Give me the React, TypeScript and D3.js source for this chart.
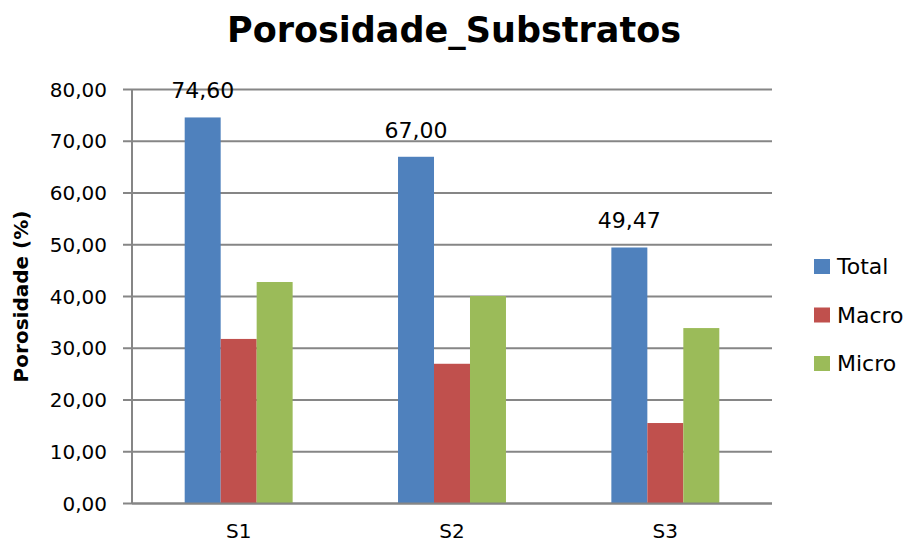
import React from "react";
import * as d3 from "d3";

const categories = ["S1", "S2", "S3"];
const seriesNames = ["Total", "Macro", "Micro"];
const totalValues = [74.6, 67.0, 49.47];
const macroValues = [31.8, 27.0, 15.55];
const microValues = [42.8, 40.1, 33.9];
const yTicks = [0, 10, 20, 30, 40, 50, 60, 70, 80];
const colors = ["#4F81BD", "#C0504D", "#9BBB59"];

const W = 908;
const H = 549;
const left = 132;
const right = 772;
const top = 89.5;
const bottom = 503.5;
const FONT = "'DejaVu Sans', sans-serif";

const fmt = (v: number) => d3.format(".2f")(v).replace(".", ",");

export default function App() {
  const series = [totalValues, macroValues, microValues];
  const x = d3
    .scaleBand<string>()
    .domain(categories)
    .range([left, right])
    .paddingInner(0.494)
    .paddingOuter(0.247);
  const xs = d3
    .scaleBand<string>()
    .domain(seriesNames)
    .range([0, x.bandwidth()]);
  const y = d3.scaleLinear().domain([0, 80]).range([bottom, top]);

  return (
    <svg
      width={W}
      height={H}
      style={{ position: "absolute", left: 0, top: 0, background: "#fff" }}
      fontFamily={FONT}
    >
      <rect x={0} y={0} width={W} height={H} fill="#fff" />
      <text
        x={454}
        y={42}
        textAnchor="middle"
        fontSize={35}
        fontWeight="bold"
        fill="#000"
      >
        Porosidade_Substratos
      </text>

      {/* gridlines and ticks */}
      {yTicks.map((t) => (
        <g key={t}>
          <line
            x1={left - 9}
            x2={right}
            y1={y(t)}
            y2={y(t)}
            stroke="#868686"
            strokeWidth={2}
          />
          <text
            x={107}
            y={y(t)}
            dy="0.36em"
            textAnchor="end"
            fontSize={20}
            fill="#000"
          >
            {fmt(t)}
          </text>
        </g>
      ))}
      <line x1={left} x2={left} y1={top} y2={bottom} stroke="#868686" strokeWidth={2} />

      <text
        transform={`translate(28,${(top + bottom) / 2}) rotate(-90)`}
        textAnchor="middle"
        fontSize={20}
        fontWeight="bold"
        fill="#000"
      >
        Porosidade (%)
      </text>

      {/* bars */}
      {categories.map((c, ci) => (
        <g key={c} transform={`translate(${x(c)},0)`}>
          {seriesNames.map((s, si) => {
            const v = series[si][ci];
            return (
              <rect
                key={s}
                x={xs(s)}
                y={y(v)}
                width={xs.bandwidth()}
                height={bottom - y(v)}
                fill={colors[si]}
              />
            );
          })}
          <text
            x={(xs("Total") as number) + xs.bandwidth() / 2}
            y={y(totalValues[ci]) - 19}
            textAnchor="middle"
            fontSize={22}
            fill="#000"
          >
            {fmt(totalValues[ci])}
          </text>
        </g>
      ))}
      <line x1={left} x2={right} y1={bottom} y2={bottom} stroke="#868686" strokeWidth={2} />

      {/* x labels */}
      {categories.map((c) => (
        <text
          key={c}
          x={(x(c) as number) + x.bandwidth() / 2}
          y={538}
          textAnchor="middle"
          fontSize={20}
          fill="#000"
        >
          {c}
        </text>
      ))}

      {/* legend */}
      {seriesNames.map((s, i) => {
        const cy = 266.5 + i * 48.5;
        return (
          <g key={s}>
            <rect x={814} y={cy - 7.5} width={16} height={15} fill={colors[i]} />
            <text x={837} y={cy} dy="0.36em" fontSize={22} fill="#000">
              {s}
            </text>
          </g>
        );
      })}
    </svg>
  );
}
